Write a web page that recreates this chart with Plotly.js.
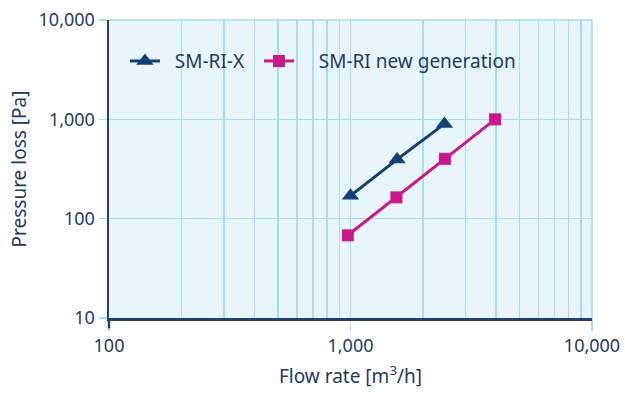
<!DOCTYPE html>
<html>
<head>
<meta charset="utf-8">
<script src="https://cdn.plot.ly/plotly-3.0.1.min.js"></script>
<style>html,body{margin:0;padding:0;background:#fff;}#chart{width:625px;height:394px;}</style>
</head>
<body>
<div id="chart"></div>
<script>
// Data
const seriesNames = ["SM-RI-X", "SM-RI new generation"];
const smriX_flow = [1000, 1560, 2450];
const smriX_loss = [170, 395, 900];
const smriNew_flow = [975, 1550, 2460, 3970];
const smriNew_loss = [68, 164, 400, 1000];

const xMajorVals = [100, 1000, 10000];
const xMajorText = ["100", "1,000", "10,000"];
const xMinorVals = [200, 300, 400, 500, 600, 700, 800, 900, 2000, 3000, 4000, 5000, 6000, 7000, 8000, 9000];
const yMajorVals = [10, 100, 1000, 10000];
const yMajorText = ["10", "100", "1,000", "10,000"];

const navy = "#123f74";
const magenta = "#cc168c";
const textNavy = "#1d3a66";
const grid = "#a8dcf1";
const FONT = "Noto Sans, sans-serif";
const NB = "\u00a0";

const traces = [
  {
    x: smriX_flow, y: smriX_loss, name: NB + NB + seriesNames[0] + NB + NB,
    type: "scatter", mode: "lines+markers",
    line: {color: navy, width: 3},
    marker: {symbol: "triangle-up", size: 15, color: navy}
  },
  {
    x: smriNew_flow, y: smriNew_loss, name: NB + NB + NB + NB + seriesNames[1],
    type: "scatter", mode: "lines+markers",
    line: {color: magenta, width: 3},
    marker: {symbol: "square", size: 12, color: magenta}
  }
];

const layout = {
  width: 625, height: 394,
  margin: {l: 109, r: 33, t: 20, b: 76},
  paper_bgcolor: "#ffffff",
  plot_bgcolor: "#e8f5fa",
  font: {family: FONT, color: textNavy, size: 17},
  showlegend: true,
  legend: {
    orientation: "h", x: 0.033, y: 0.862, xanchor: "left", yanchor: "middle",
    bgcolor: "rgba(0,0,0,0)", font: {size: 19, color: textNavy},
    itemwidth: 30
  },
  xaxis: {
    type: "log", range: [2, 4],
    tickmode: "array", tickvals: xMajorVals, ticktext: xMajorText,
    ticks: "outside", ticklen: 10, tickcolor: grid, tickwidth: 1.5,
    showgrid: true, gridcolor: grid, gridwidth: 1.5,
    minor: {tickmode: "array", tickvals: xMinorVals, showgrid: true, gridcolor: grid, gridwidth: 1.5, ticks: ""},
    showline: true, linecolor: "#22406b", linewidth: 2.5,
    zeroline: false,
    tickfont: {size: 18, color: textNavy},
    title: {text: "Flow rate [m<sup>3</sup>/h]", font: {size: 19, color: textNavy}, standoff: 14},
    automargin: false
  },
  yaxis: {
    type: "log", range: [1, 4],
    tickmode: "array", tickvals: yMajorVals, ticktext: yMajorText,
    ticks: "outside", ticklen: 8, tickcolor: grid, tickwidth: 1.5,
    showgrid: true, gridcolor: grid, gridwidth: 1.5,
    showline: true, linecolor: "#22406b", linewidth: 2.5,
    zeroline: false,
    tickfont: {size: 18, color: textNavy},
    title: {text: "Pressure loss [Pa]", font: {size: 19, color: textNavy}, standoff: 7},
    automargin: false
  },
  shapes: [
    {type: "line", xref: "paper", yref: "paper", x0: 0, x1: 1, y0: 1, y1: 1, line: {color: grid, width: 1.5}, layer: "below"},
    {type: "line", xref: "paper", yref: "paper", x0: 1, x1: 1, y0: -0.035, y1: 1, line: {color: grid, width: 1.5}, layer: "below"},
    {type: "line", xref: "paper", yref: "paper", x0: 0, x1: 0, y0: -0.035, y1: 0, line: {color: "#22406b", width: 2.5}}
  ]
};

Plotly.newPlot("chart", traces, layout, {displayModeBar: false, staticPlot: true});
</script>
</body>
</html>
